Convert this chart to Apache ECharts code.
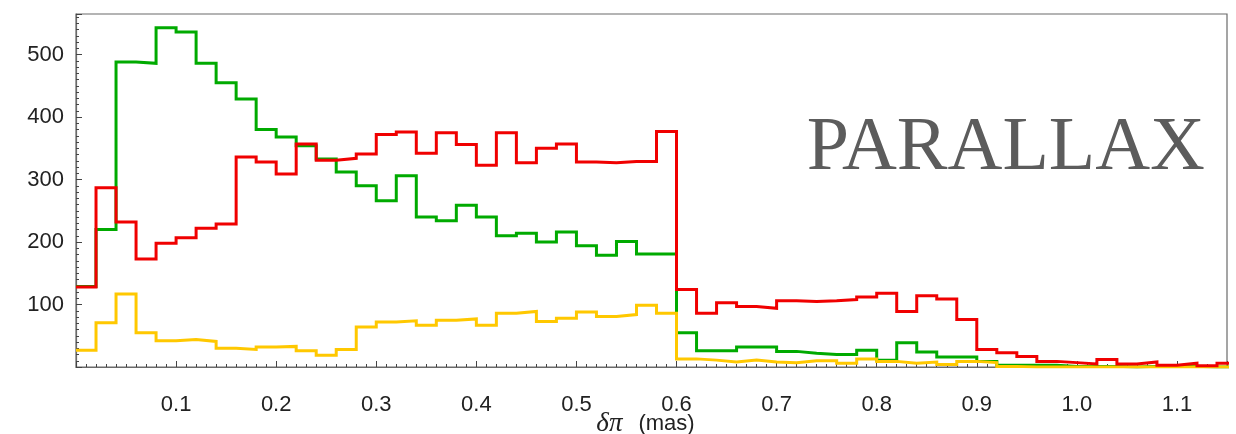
<!DOCTYPE html>
<html>
<head>
<meta charset="utf-8">
<script src="https://cdn.jsdelivr.net/npm/echarts@6/dist/echarts.min.js"></script>
<style>
  html, body { margin: 0; padding: 0; background: #fff; }
  #chart { width: 1236px; height: 434px; }
</style>
</head>
<body>
<div id="chart"></div>
<script>
// Histogram of parallax errors, bin width 0.02 mas, bins starting at 0
const binWidth = 0.02;

const redCounts = [
  128, 287, 232, 173, 198, 207, 222, 229, 336, 328,
  309, 357, 331, 334, 341, 372, 376, 342, 375, 356,
  323, 375, 327, 350, 357, 328, 327, 329, 329, 377,
  124, 86, 103, 97, 94, 106, 105, 106, 108, 112,
  118, 89, 114, 109, 76, 28, 23, 17, 9, 7,
  5, 12, 5, 8, 3, 6, 2, 6
];

const greenCounts = [
  129, 220, 488, 486, 543, 536, 486, 455, 429, 380,
  368, 354, 333, 312, 290, 266, 306, 240, 234, 259,
  240, 210, 214, 200, 216, 194, 179, 201, 181, 181,
  55, 26, 26, 32, 32, 25, 22, 20, 20, 27,
  11, 39, 24, 16, 16, 9, 3, 3, 3, 1,
  1, 1, 0, 1, 1, 1, 0, 0
];

const yellowCounts = [
  27, 71, 117, 55, 42, 44, 41, 30, 28, 32,
  33, 26, 19, 28, 64, 72, 74, 67, 75, 77,
  67, 86, 89, 73, 78, 88, 81, 84, 99, 86,
  13, 11, 8, 11, 8, 7, 10, 10, 6, 13,
  9, 6, 8, 4, 9, 7, 1, 0, 0, 0,
  0, 0, 0, 0, 0, 0, 0, 0
];

const xTickLabels = ['0.1', '0.2', '0.3', '0.4', '0.5', '0.6', '0.7', '0.8', '0.9', '1.0', '1.1'];
const yTickLabels = ['100', '200', '300', '400', '500'];

const X_MAX = 1.15;
const Y_MAX = 565;

// Turn bin counts into step-line points at the bin edges
function toSteps(counts) {
  const pts = counts.map((c, i) => [i * binWidth, c]);
  pts.push([counts.length * binWidth, counts[counts.length - 1]]);
  return pts;
}

function stepSeries(name, counts, color, z) {
  return {
    name: name,
    type: 'line',
    step: 'end',
    data: toSteps(counts),
    showSymbol: false,
    symbol: 'none',
    clip: true,
    z: z,
    lineStyle: { color: color, width: 3, join: 'miter' },
    animation: false
  };
}

const labelFont = '"Liberation Sans", Arial, sans-serif';
const frameColor = '#6a6a6a';
const tickColor = '#444444';

// Axis that only draws the small inward ticks
function minorAxis(extra) {
  return Object.assign({
    type: 'value',
    axisLine: { show: false },
    axisLabel: { show: false },
    splitLine: { show: false },
    axisTick: { show: true, inside: true, length: 3, lineStyle: { color: tickColor, width: 1 } }
  }, extra);
}

const chart = echarts.init(document.getElementById('chart'), null, { renderer: 'canvas' });

chart.setOption({
  backgroundColor: '#ffffff',
  animation: false,
  grid: {
    left: 76, right: 9, top: 14, bottom: 67,
    outerBoundsMode: 'none',
    containLabel: false,
    show: true, borderColor: frameColor, borderWidth: 1.2, backgroundColor: 'transparent'
  },
  xAxis: [{
    type: 'value',
    min: 0,
    max: X_MAX,
    interval: 0.1,
    name: '{a|δπ}{b|(mas)}',
    nameLocation: 'middle',
    nameGap: 43,
    nameMoveOverlap: false,
    nameTextStyle: {
      padding: [0, 12, 0, 0],
      rich: {
        a: { fontFamily: '"Liberation Serif", serif', fontStyle: 'italic', fontSize: 27, color: '#222', padding: [0, 16, 0, 0] },
        b: { fontFamily: labelFont, fontSize: 22, color: '#222' }
      }
    },
    axisLine: { show: true, onZero: false, lineStyle: { color: frameColor, width: 1.2 } },
    axisTick: { show: true, inside: true, length: 6, lineStyle: { color: tickColor, width: 1 } },
    splitLine: { show: false },
    axisLabel: {
      margin: 27,
      fontFamily: labelFont, fontSize: 22, color: '#222',
      formatter: function (v) {
        const k = Math.round(v * 10);
        if (Math.abs(v * 10 - k) > 1e-6 || k < 1 || k > xTickLabels.length) return '';
        return xTickLabels[k - 1];
      }
    }
  }, minorAxis({ min: 0, max: X_MAX, interval: 0.01, position: 'bottom' })],
  yAxis: [{
    type: 'value',
    min: 0,
    max: Y_MAX,
    interval: 100,
    axisLine: { show: true, onZero: false, lineStyle: { color: frameColor, width: 1.2 } },
    axisTick: { show: true, inside: true, length: 6, lineStyle: { color: tickColor, width: 1 } },
    splitLine: { show: false },
    axisLabel: {
      margin: 12,
      fontFamily: labelFont, fontSize: 22, color: '#222',
      formatter: function (v) {
        const k = Math.round(v / 100);
        if (Math.abs(v - k * 100) > 1e-6 || k < 1 || k > yTickLabels.length) return '';
        return yTickLabels[k - 1];
      }
    }
  }, minorAxis({ min: 0, max: Y_MAX, interval: 10, position: 'left' })],
  graphic: [{
    type: 'text',
    right: 31,
    top: 111,
    style: {
      text: 'PARALLAX',
      font: '76px "Liberation Serif", serif',
      fill: '#5c5c5c'
    }
  }],
  series: [
    stepSeries('green', greenCounts, '#00aa00', 2),
    stepSeries('yellow', yellowCounts, '#ffc800', 3),
    stepSeries('red', redCounts, '#f00000', 4)
  ]
});
</script>
</body>
</html>
